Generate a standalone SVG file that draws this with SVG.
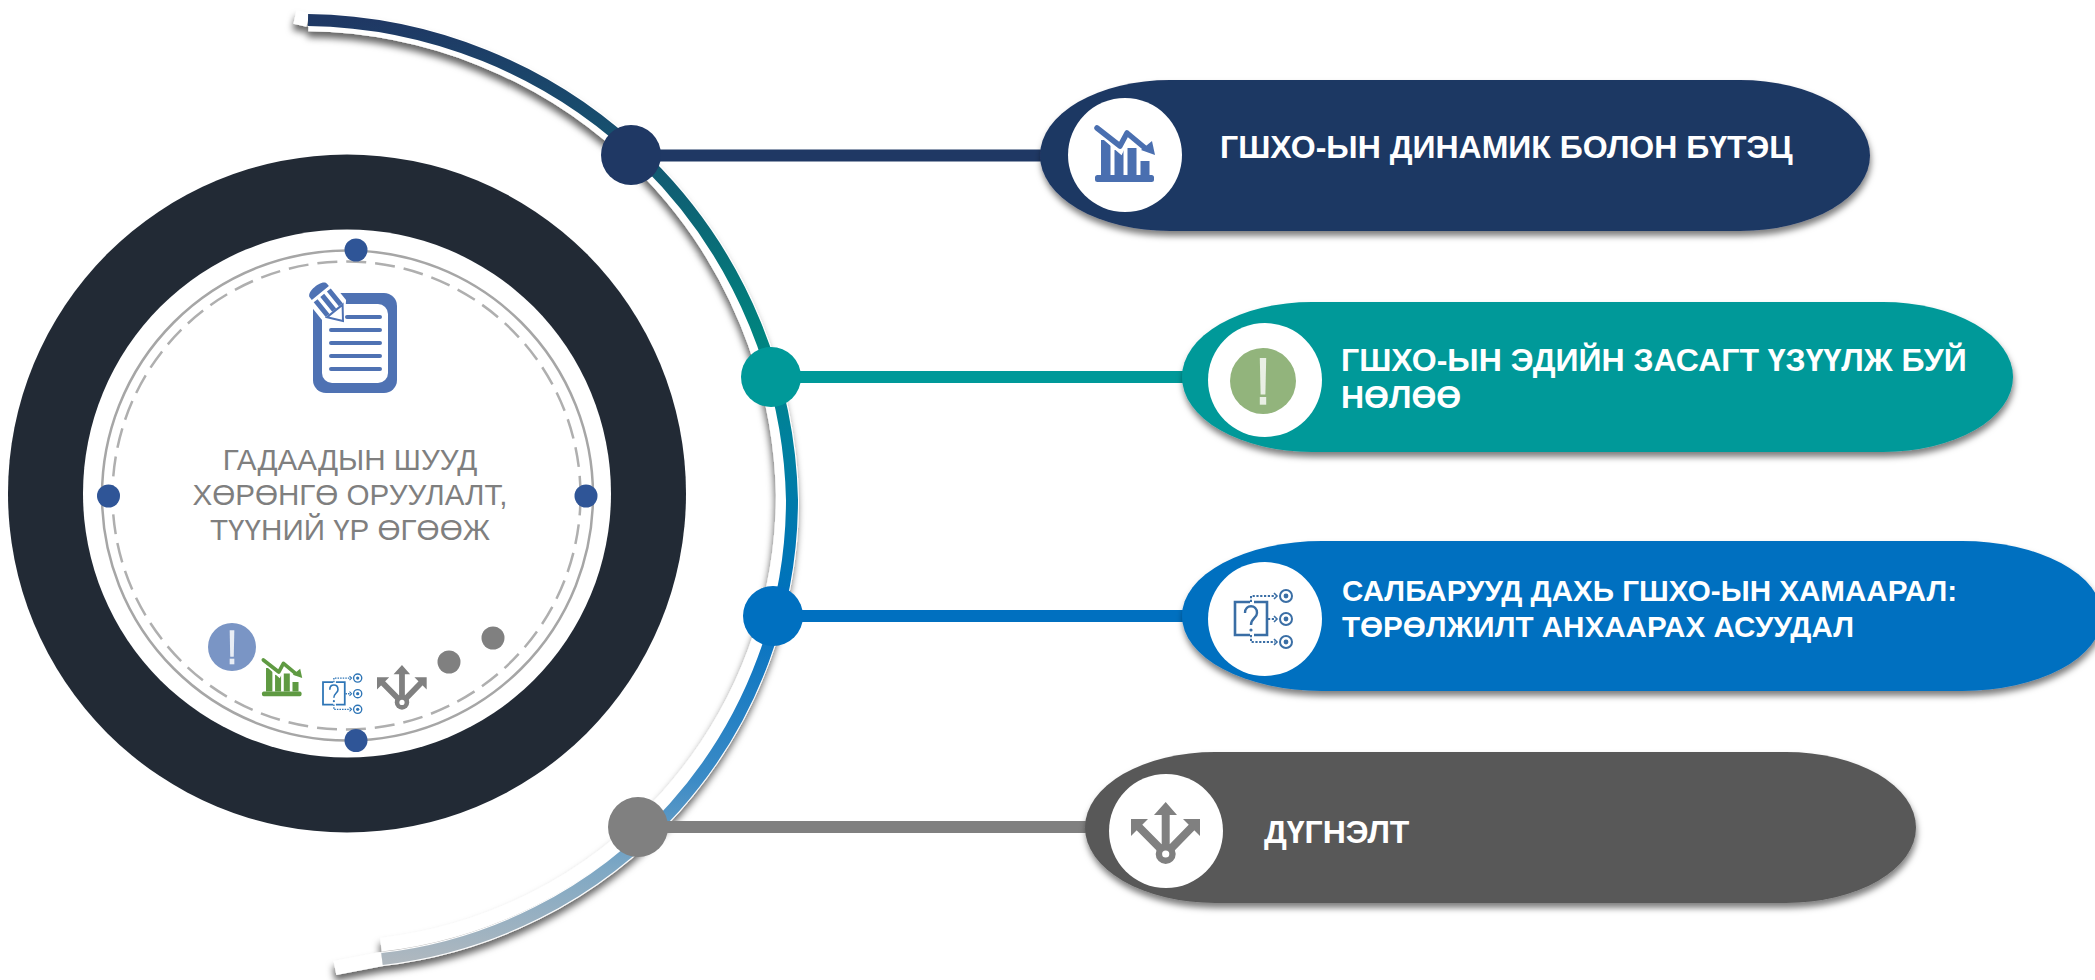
<svg xmlns="http://www.w3.org/2000/svg" width="2095" height="980" viewBox="0 0 2095 980">
<style>
.lbl{font-family:"Liberation Sans",Arial,sans-serif;font-weight:700;fill:#fff}
.ctr{font-family:"Liberation Sans",Arial,sans-serif;font-size:29.6px;fill:#7f7f7f;text-anchor:middle}
.wc{fill:#fff}
.sd{fill:#2f5597}
.gd{fill:#808080}
.ln{stroke-width:12;fill:none}
</style>
<defs>
<linearGradient id="arcGrad" gradientUnits="userSpaceOnUse" x1="0" y1="20" x2="0" y2="962">
<stop offset="0" stop-color="#1f3864"/>
<stop offset="0.117" stop-color="#17506f"/>
<stop offset="0.191" stop-color="#0e6274"/>
<stop offset="0.335" stop-color="#00847f"/>
<stop offset="0.456" stop-color="#0080a0"/>
<stop offset="0.626" stop-color="#0070c0"/>
<stop offset="0.807" stop-color="#3c8bc6"/>
<stop offset="0.902" stop-color="#7fa8c4"/>
<stop offset="1" stop-color="#afb8bf"/>
</linearGradient>
<filter id="sh" x="-10%" y="-10%" width="120%" height="125%"><feDropShadow dx="1" dy="5" stdDeviation="3" flood-color="#000" flood-opacity="0.5"/></filter>
<filter id="shArc" x="-10%" y="-5%" width="120%" height="110%"><feDropShadow dx="-1" dy="6" stdDeviation="3.5" flood-color="#000" flood-opacity="0.6"/></filter>
<path id="arcPath" d="M308,20A491,491 0 0 1 792,500A463,463 0 0 1 382,959"/>
<g id="icoChart">
<rect x="0" y="50" width="59" height="7" rx="2.500" fill="currentColor"/>
<path d="M6,15h9.500v35h-9.500zM19.500,25h9v25h-9zM32.500,23h9v27h-9zM45.500,36h9v14h-9z" fill="currentColor"/>
<path d="M2,3L25,23L32,8L52,25" fill="none" stroke="#fff" stroke-width="9"/>
<path d="M2,3L25,21L32,8L50,23" fill="none" stroke="currentColor" stroke-width="5.500" stroke-linecap="round" stroke-linejoin="round"/>
<path d="M46,25L57,16L60,30Z" fill="currentColor"/>
</g>
<g id="icoQ" fill="none" stroke="currentColor">
<path d="M15,12H0V45H15M19,12H32V45H19" stroke-width="2.600"/>
<path d="M10,23C10,14 22,14 22,23C22,28 16,28 16,35" stroke-width="2.400"/>
<circle cx="16" cy="40" r="1.600" fill="currentColor" stroke="none"/>
<path d="M16,12V6H40M33,29H40M16,45V52H40" stroke-width="2" stroke-dasharray="2.2 1.6"/>
<path d="M39,3L42,6L39,9M39,26L42,29L39,32M39,49L42,52L39,55" stroke-width="1.600"/>
<g stroke-width="2"><circle cx="51" cy="6" r="6"/><circle cx="51" cy="29" r="6"/><circle cx="51" cy="52" r="6"/></g>
<g fill="currentColor" stroke="none"><circle cx="51" cy="6" r="2.400"/><circle cx="51" cy="29" r="2.400"/><circle cx="51" cy="52" r="2.400"/></g>
</g>
<g id="icoFork">
<path d="M34.7,52V8M34.7,52L6,23M34.7,52L63,23" fill="none" stroke="currentColor" stroke-width="8"/>
<path d="M34.7,0L46,13H23ZM0,17H17L0,34ZM69,17H52L69,34Z" fill="currentColor"/>
<circle cx="34.7" cy="52" r="10" fill="currentColor"/>
<circle cx="34.7" cy="52" r="3.600" fill="#fff"/>
</g>
<g id="icoEx">
<path d="M-3.2,-23H3.2L2.4,13.5H-2.4Z"/>
<rect x="-3.2" y="16" width="6.400" height="7.700"/>
</g>
</defs>

<g id="central-ring">
<circle cx="347" cy="493.500" r="339" fill="#222a35"/>
<circle cx="347" cy="493.500" r="264" fill="#fff"/>
<ellipse cx="347.500" cy="495.500" rx="245.500" ry="245" fill="none" stroke="#a6a6a6" stroke-width="2.500"/>
<circle cx="346.500" cy="495.500" r="234" fill="none" stroke="#afafaf" stroke-width="2.500" stroke-dasharray="20 9"/>
<circle class="sd" cx="356" cy="250" r="11.500"/>
<circle class="sd" cx="356" cy="740.500" r="11.500"/>
<circle class="sd" cx="108.500" cy="496" r="11.500"/>
<circle class="sd" cx="586" cy="496" r="11.500"/>
</g>

<g id="doc-icon">
<rect x="313" y="293" width="84" height="100" rx="13" fill="#4f72b3"/>
<rect x="322" y="304" width="66" height="79" rx="10" fill="#fff"/>
<path d="M347,317H380M331,330H380M331,343H380M331,356H380M331,369H380" stroke="#4f72b3" stroke-width="4" stroke-linecap="round" fill="none"/>
<g transform="translate(343,321) rotate(-39)">
<path d="M0,2L-13,-12V-44H13V-12Z" fill="#fff" transform="scale(1.2)"/>
<path d="M0,0L-10,-13L0,-13L10,-13Z" fill="#fff" stroke="#4f72b3" stroke-width="2"/>
<path d="M-11,-14H-6V-33H-11ZM-2.500,-14H2.500V-33H-2.500ZM6,-14H11V-33H6Z" fill="#4f72b3"/>
<path d="M-11,-36H11V-39C11,-46 -11,-46 -11,-39Z" fill="#4f72b3"/>
</g>
</g>

<text class="ctr" x="350" y="469.500">ГАДААДЫН ШУУД</text>
<text class="ctr" x="350" y="504.500">ХӨРӨНГӨ ОРУУЛАЛТ,</text>
<text class="ctr" x="350" y="539.500">ТҮҮНИЙ ҮР ӨГӨӨЖ</text>

<g id="mini-icons">
<g id="mini-alert"><circle cx="232" cy="647" r="24" fill="#7a95c5"/><use href="#icoEx" transform="translate(232,647) scale(.73)" fill="#e8edf5"/></g>
<use id="mini-chart" href="#icoChart" transform="translate(262,658) scale(.67)" style="color:#5f9a42"/>
<use id="mini-question" href="#icoQ" transform="translate(323,674) scale(.68)" style="color:#2e75b6"/>
<use id="mini-fork" href="#icoFork" transform="translate(377,665) scale(.72)" style="color:#808080"/>
<circle class="gd" cx="449" cy="662" r="11.500"/>
<circle class="gd" cx="493" cy="638" r="11.500"/>
</g>

<g id="arc">
<g filter="url(#shArc)" fill="none" stroke="#fff">
<use href="#arcPath" stroke-width="14"/>
<path d="M295,17L308,20M382,959L335,968" stroke-width="14"/>
<use href="#arcPath" stroke-width="14" transform="translate(6.6,4.9) scale(.98)"/>
</g>
<use href="#arcPath" fill="none" stroke="url(#arcGrad)" stroke-width="12"/>
</g>

<g id="connectors">
<path class="ln" stroke="#1f3864" d="M631,155.500H1045"/>
<path class="ln" stroke="#009999" d="M771,377H1190"/>
<path class="ln" stroke="#0070c0" d="M773,616H1190"/>
<path class="ln" stroke="#808080" d="M638,827H1090"/>
<circle cx="631" cy="155" r="30" fill="#1f3864"/>
<circle cx="771" cy="377" r="30" fill="#009999"/>
<circle cx="773" cy="616" r="30" fill="#0070c0"/>
<circle cx="638" cy="827" r="30" fill="#808080"/>
</g>

<g id="node-1">
<rect x="1040" y="80" width="830" height="151" rx="130" ry="75.500" fill="#1f3864" filter="url(#sh)"/>
<circle class="wc" cx="1125" cy="155" r="57"/>
<use href="#icoChart" transform="translate(1095,125)" style="color:#4a6fb0"/>
<text class="lbl" x="1220" y="158" font-size="32">ГШХО-ЫН ДИНАМИК БОЛОН БҮТЭЦ</text>
</g>
<g id="node-2">
<rect x="1182" y="302" width="831" height="150" rx="130" ry="75" fill="#009999" filter="url(#sh)"/>
<circle class="wc" cx="1265" cy="380" r="57"/>
<circle cx="1263" cy="381" r="33" fill="#92b47c"/>
<use href="#icoEx" transform="translate(1263,381)" fill="#e9efe4"/>
<text class="lbl" x="1341" y="371" font-size="32">ГШХО-ЫН ЭДИЙН ЗАСАГТ ҮЗҮҮЛЖ БУЙ</text>
<text class="lbl" x="1341" y="408" font-size="32">НӨЛӨӨ</text>
</g>
<g id="node-3">
<rect x="1182" y="541" width="920" height="150" rx="140" ry="75" fill="#0070c0" filter="url(#sh)"/>
<circle class="wc" cx="1265" cy="619" r="57"/>
<use href="#icoQ" transform="translate(1235,590)" style="color:#3a6ea5"/>
<text class="lbl" x="1342" y="601" font-size="29.6">САЛБАРУУД ДАХЬ ГШХО-ЫН ХАМААРАЛ:</text>
<text class="lbl" x="1342" y="637" font-size="29.6">ТӨРӨЛЖИЛТ АНХААРАХ АСУУДАЛ</text>
</g>
<g id="node-4">
<rect x="1085" y="752" width="831" height="151" rx="130" ry="75.500" fill="#595959" filter="url(#sh)"/>
<circle class="wc" cx="1166" cy="831" r="57"/>
<use href="#icoFork" transform="translate(1131,802)" style="color:#808080"/>
<text class="lbl" x="1264" y="843" font-size="32">ДҮГНЭЛТ</text>
</g>
</svg>
